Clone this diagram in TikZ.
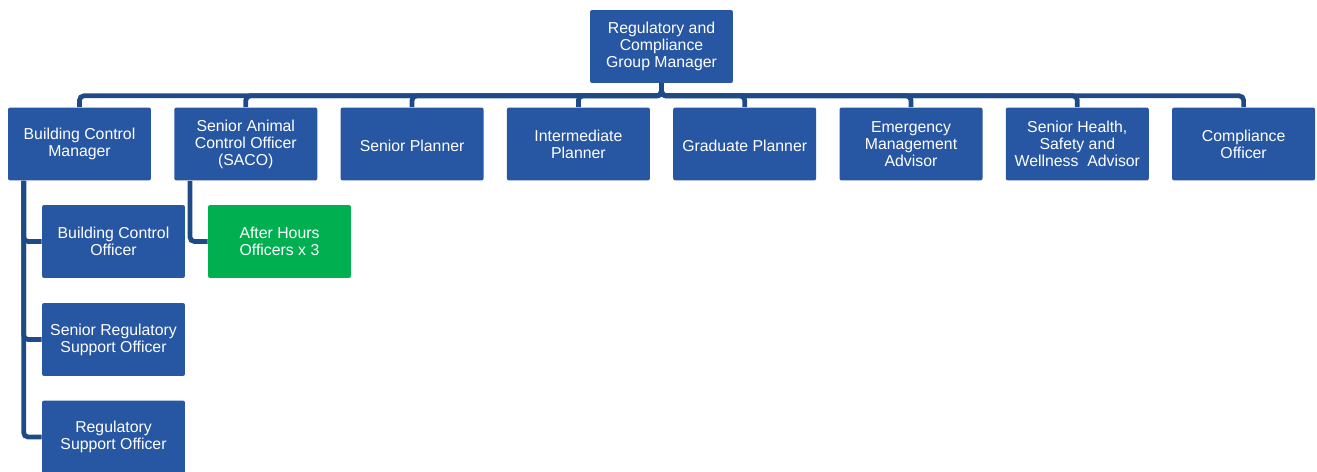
\documentclass[tikz,border=0pt]{standalone}
\usepackage{fontspec}
\setmainfont{Liberation Sans}
\definecolor{boxblue}{HTML}{2756A3}
\definecolor{lineblue}{HTML}{1F4A88}
\definecolor{boxgreen}{HTML}{00B050}
\tikzset{
  post/.style={rectangle, rounded corners=1.2pt, fill=boxblue, text=white,
    minimum width=2.86cm, minimum height=1.46cm, inner sep=1pt, align=center,
    execute at begin node={\rule{0pt}{8.7pt}}, font=\fontsize{9}{9.7}\selectfont},
  link/.style={draw=lineblue, line width=2.7pt, rounded corners=2.5pt}
}
\begin{document}
\begin{tikzpicture}[x=0.02cm, y=-0.02cm]
\useasboundingbox (0,0) rectangle (1317,472);
\begin{scope}
\clip (0,0) rectangle (1317,472);
\node[post] (top) at (661.5,46.5) {Regulatory and\\Compliance\\Group Manager};
\foreach \i/\t in {1/{Building Control\\Manager},
                   2/{Senior Animal\\Control Officer\\(SACO)},
                   3/{Senior Planner},
                   4/{Intermediate\\Planner},
                   5/{Graduate Planner},
                   6/{Emergency\\Management\\Advisor},
                   7/{Senior Health,\\Safety and\\Wellness\ \ Advisor},
                   8/{Compliance\\Officer}}
   \node[post] (b\i) at ({79.5+166.3*(\i-1)},144) {\t};
% links to the second row
\foreach \i in {1,...,8}
   \draw[link] (top.south) -- ++(0,12.5) -| (b\i.north);
% team under the building control manager
\node[post] (bco) at (113.5,241.5) {Building Control\\Officer};
\node[post] (sro) at (113.5,339.5) {Senior Regulatory\\Support Officer};
\node[post] (rso) at (113.5,437) {Regulatory\\Support Officer};
\foreach \n in {bco,sro,rso}
   \draw[link] ([xshift=0.32cm]b1.south west) |- (\n.west);
% after hours team
\node[post, fill=boxgreen] (aho) at (279.5,241.5) {After Hours\\Officers x 3};
\draw[link] ([xshift=0.32cm]b2.south west) |- (aho.west);
\end{scope}
\end{tikzpicture}
\end{document}
